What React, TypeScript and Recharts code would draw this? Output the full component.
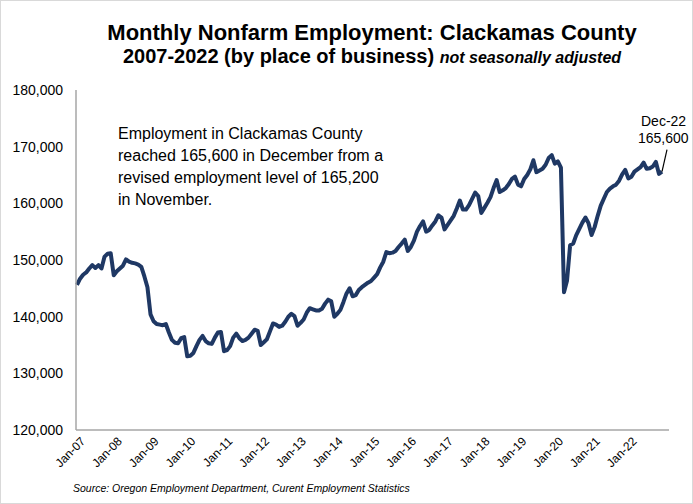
import React from "react";
import { LineChart, Line, XAxis, YAxis } from "recharts";

// ── Data ─────────────────────────────────────────────────

const MONTH_NAMES = ["Jan", "Feb", "Mar", "Apr", "May", "Jun", "Jul", "Aug", "Sep", "Oct", "Nov", "Dec"];
const YEARS = ["07", "08", "09", "10", "11", "12", "13", "14", "15", "16", "17", "18", "19", "20", "21", "22"];

const EMP_2007 = [145600, 146700, 147400, 147800, 148500, 149100, 148600, 149100, 148500, 150600, 151100, 151200];
const EMP_2008 = [147300, 148000, 148500, 149000, 150100, 149700, 149500, 149400, 149200, 148800, 147100, 145200];
const EMP_2009 = [140400, 139200, 138700, 138600, 138500, 138700, 137200, 135900, 135400, 135300, 136200, 136400];
const EMP_2010 = [133000, 133100, 133600, 134800, 135900, 136600, 135700, 135300, 135200, 136300, 137200, 137300];
const EMP_2011 = [133900, 134100, 134800, 136300, 137000, 136200, 135700, 135900, 136300, 137000, 137700, 137500];
const EMP_2012 = [135000, 135500, 136000, 137400, 138800, 138600, 138200, 138400, 139100, 140000, 140500, 140100];
const EMP_2013 = [138400, 138900, 139500, 140700, 141500, 141300, 141100, 141100, 141400, 142300, 143000, 142700];
const EMP_2014 = [140000, 140500, 141200, 142600, 144100, 145000, 143600, 143800, 144700, 145200, 145600, 146000];
const EMP_2015 = [146300, 146900, 147500, 148700, 149700, 151400, 151200, 151300, 151600, 152300, 152900, 153600];
const EMP_2016 = [151600, 152300, 153400, 155000, 156000, 156800, 155000, 155300, 156100, 156800, 157900, 157500];
const EMP_2017 = [155400, 156200, 157000, 157800, 159100, 160500, 158900, 158900, 159700, 160800, 161900, 161300];
const EMP_2018 = [158300, 159200, 160100, 161100, 162700, 164100, 162000, 162300, 162700, 163400, 164300, 164700];
const EMP_2019 = [163300, 163000, 164300, 165000, 166000, 167600, 165500, 165800, 166100, 166800, 168000, 168500];
const EMP_2020 = [167000, 167400, 166300, 144300, 146400, 152600, 152900, 154400, 155500, 156600, 157500, 156500];
const EMP_2021 = [154400, 155800, 157800, 159600, 160800, 162000, 162600, 163000, 163300, 164000, 165100, 165900];
const EMP_2022 = [164400, 164700, 165600, 166000, 166400, 167200, 166100, 166200, 166500, 167300, 165200, 165600];

const EMPLOYMENT = [
  EMP_2007, EMP_2008, EMP_2009, EMP_2010, EMP_2011, EMP_2012, EMP_2013, EMP_2014,
  EMP_2015, EMP_2016, EMP_2017, EMP_2018, EMP_2019, EMP_2020, EMP_2021, EMP_2022,
];

const Y_TICKS = [120000, 130000, 140000, 150000, 160000, 170000, 180000];
const X_TICKS = YEARS.map((yy) => `Jan-${yy}`);

const NOTE_LINES = [
  "Employment in Clackamas County",
  "reached 165,600 in December from a",
  "revised employment level of 165,200",
  "in November.",
];

const data = YEARS.flatMap((yy, y) =>
  EMPLOYMENT[y].map((jobs, m) => ({ month: `${MONTH_NAMES[m]}-${yy}`, jobs }))
);

// ── Styles ───────────────────────────────────────────────

const FONT = "Arial, 'Liberation Sans', sans-serif";
const LINE_COLOR = "#1f3864";
const AXIS_COLOR = "#a6a6a6";

// ── Pieces ───────────────────────────────────────────────

function MonthTick({ x, y, payload }: any) {
  const tx = x + 3;
  const ty = y - 2;
  return (
    <text
      x={tx}
      y={ty}
      dy="0.72em"
      textAnchor="end"
      transform={`rotate(-45 ${tx} ${ty})`}
      fontSize={12}
      fontFamily={FONT}
      fill="#000"
    >
      {payload.value}
    </text>
  );
}

function LastPointLabel(props: any) {
  const { cx, cy, index, payload } = props;
  if (index !== data.length - 1) return <g key={`d-${index}`} />;
  return (
    <g key="last">
      <line x1={cx} y1={cy} x2={cx + 5} y2={cy - 22} stroke="#000" strokeWidth={1.2} />
      <text x={cx - 21} y={cy - 46} fontSize={14} fontFamily={FONT} fill="#000">
        {payload.month}
      </text>
      <text x={cx - 24} y={cy - 29} fontSize={14} fontFamily={FONT} fill="#000">
        {payload.jobs.toLocaleString("en-US")}
      </text>
    </g>
  );
}

export default function App() {
  return (
    <div style={{ position: "absolute", left: 0, top: 0, width: 693, height: 504, background: "#fff" }}>
      <LineChart width={693} height={504} data={data} margin={{ top: 90, right: 24, bottom: 14, left: 6 }}>
        <XAxis
          dataKey="month"
          ticks={X_TICKS}
          interval={0}
          tickLine={false}
          axisLine={{ stroke: AXIS_COLOR, strokeWidth: 1.5 }}
          height={60}
          padding={{ left: 1, right: 7 }}
          tick={<MonthTick />}
        />
        <YAxis
          domain={[120000, 180000]}
          ticks={Y_TICKS}
          width={70}
          tickLine={false}
          tickMargin={7}
          axisLine={{ stroke: AXIS_COLOR, strokeWidth: 1.5 }}
          tickFormatter={(v: number) => v.toLocaleString("en-US")}
          tick={{ fontSize: 14, fill: "#000", fontFamily: FONT }}
        />
        <Line
          type="linear"
          dataKey="jobs"
          stroke={LINE_COLOR}
          strokeWidth={4}
          strokeLinejoin="round"
          dot={LastPointLabel}
          activeDot={false}
          isAnimationActive={false}
        />
      </LineChart>

      <svg
        width={693}
        height={504}
        style={{ position: "absolute", left: 0, top: 0, pointerEvents: "none" }}
        fontFamily={FONT}
      >
        <text x={372} y={40} textAnchor="middle" fontSize={22} fontWeight="bold" fill="#000">
          Monthly Nonfarm Employment: Clackamas County
        </text>
        <text x={372} y={63} textAnchor="middle" fontSize={20} fontWeight="bold" fill="#000">
          2007-2022 (by place of business){" "}
          <tspan fontSize={16} fontStyle="italic">not seasonally adjusted</tspan>
        </text>
        {NOTE_LINES.map((line, i) => (
          <text key={i} x={118} y={139 + i * 22} fontSize={16} fill="#000">
            {line}
          </text>
        ))}
        <text x={73} y={492} fontSize={10.5} fontStyle="italic" fill="#000">
          Source: Oregon Employment Department, Curent Employment Statistics
        </text>
      </svg>

      <div
        style={{
          position: "absolute",
          left: 0,
          top: 0,
          width: 693,
          height: 504,
          boxSizing: "border-box",
          border: "1px solid #d9d9d9",
          pointerEvents: "none",
        }}
      />
    </div>
  );
}
